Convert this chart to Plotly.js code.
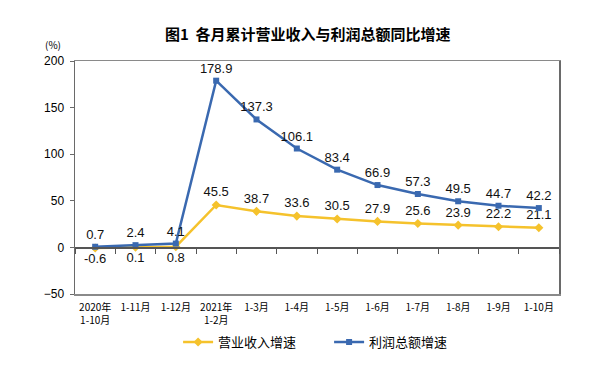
<!DOCTYPE html>
<html>
<head>
<meta charset="utf-8">
<script src="https://cdn.plot.ly/plotly-3.0.1.min.js"></script>
<style>html,body{margin:0;padding:0;background:#fff;}#chart{width:600px;height:369px;}</style>
</head>
<body>
<div id="chart"></div>
<script>
const categories = ["2020年<br>1-10月","1-11月","1-12月","2021年<br>1-2月","1-3月","1-4月","1-5月","1-6月","1-7月","1-8月","1-9月","1-10月"];
const revenueGrowth = [-0.6, 0.1, 0.8, 45.5, 38.7, 33.6, 30.5, 27.9, 25.6, 23.9, 22.2, 21.1];
const profitGrowth = [0.7, 2.4, 4.1, 178.9, 137.3, 106.1, 83.4, 66.9, 57.3, 49.5, 44.7, 42.2];
const revenueName = "营业收入增速";
const profitName = "利润总额增速";
const titleText = "图1  各月累计营业收入与利润总额同比增速";

const labelFont = {family: "Liberation Sans, Arial, sans-serif", size: 13, color: "#111"};
const cjk = "Noto Sans CJK SC, sans-serif";

const traces = [
  {
    x: categories, y: revenueGrowth, name: revenueName, type: "scatter",
    mode: "lines+markers+text",
    text: revenueGrowth.map(v => v.toFixed(1)),
    textposition: revenueGrowth.map((v, i) => i < 3 ? "bottom center" : "top center"),
    textfont: labelFont,
    line: {color: "#F5C22C", width: 2.5},
    marker: {symbol: "diamond", size: 7, color: "#F5C22C"},
    cliponaxis: false, hoverinfo: "skip"
  },
  {
    x: categories, y: profitGrowth, name: profitName, type: "scatter",
    mode: "lines+markers+text",
    text: profitGrowth.map(v => v.toFixed(1)),
    textposition: "top center",
    textfont: labelFont,
    line: {color: "#3A69B0", width: 2.5},
    marker: {symbol: "square", size: 6, color: "#3A69B0"},
    cliponaxis: false, hoverinfo: "skip"
  },
  {
    x: categories, y: profitGrowth.map(() => null), xaxis: "x2", yaxis: "y",
    type: "scatter", mode: "lines", showlegend: false, hoverinfo: "skip"
  }
];

const layout = {
  width: 600, height: 369,
  margin: {l: 75, r: 41, t: 61, b: 75, autoexpand: false},
  paper_bgcolor: "#fff", plot_bgcolor: "#fff",
  title: {text: titleText, font: {family: cjk, size: 15, color: "#000", weight: "bold"},
          x: 0.513, xanchor: "center", y: 0.905, yanchor: "middle", yref: "container"},
  xaxis: {
    type: "category", range: [-0.5, 11.5], showgrid: false,
    showline: true, mirror: true, linecolor: "#8a8a8a", linewidth: 1.5,
    ticks: "", tickfont: {family: cjk, size: 10, color: "#000"},
    ticklabelstandoff: 3,
    tickangle: 0, fixedrange: true, automargin: false
  },
  xaxis2: {
    type: "category", range: [-0.5, 11.5], overlaying: "x", anchor: "free", position: 0.2,
    showgrid: false, showticklabels: false, showline: true, linecolor: "#555", linewidth: 1.5,
    ticks: "outside", ticklen: 5, tickcolor: "#555", tickwidth: 1, tickson: "boundaries",
    side: "bottom", fixedrange: true
  },
  yaxis: {
    range: [-50, 200], dtick: 50, showgrid: false, zeroline: false,
    showline: true, mirror: true, linecolor: "#6a6a6a", linewidth: 1.5,
    ticks: "outside", ticklen: 4, tickcolor: "#6a6a6a",
    tickfont: {family: "Liberation Sans, Arial, sans-serif", size: 12, color: "#000"},
    ticklabelstandoff: 3, fixedrange: true, automargin: false
  },
  showlegend: true,
  legend: {
    orientation: "h", x: 0.213, xanchor: "left", y: 0.073, yanchor: "middle", yref: "container",
    font: {family: cjk, size: 13, color: "#000"}, entrywidth: 106, entrywidthmode: "pixels",
    traceorder: "normal"
  },
  annotations: [
    {text: "(%)", xref: "paper", yref: "paper", x: -0.045, y: 1.07, showarrow: false,
     font: {family: cjk, size: 10, color: "#000"}, xanchor: "center", yanchor: "middle"}
  ]
};

Plotly.newPlot("chart", traces, layout, {staticPlot: true, displayModeBar: false});
</script>
</body>
</html>
